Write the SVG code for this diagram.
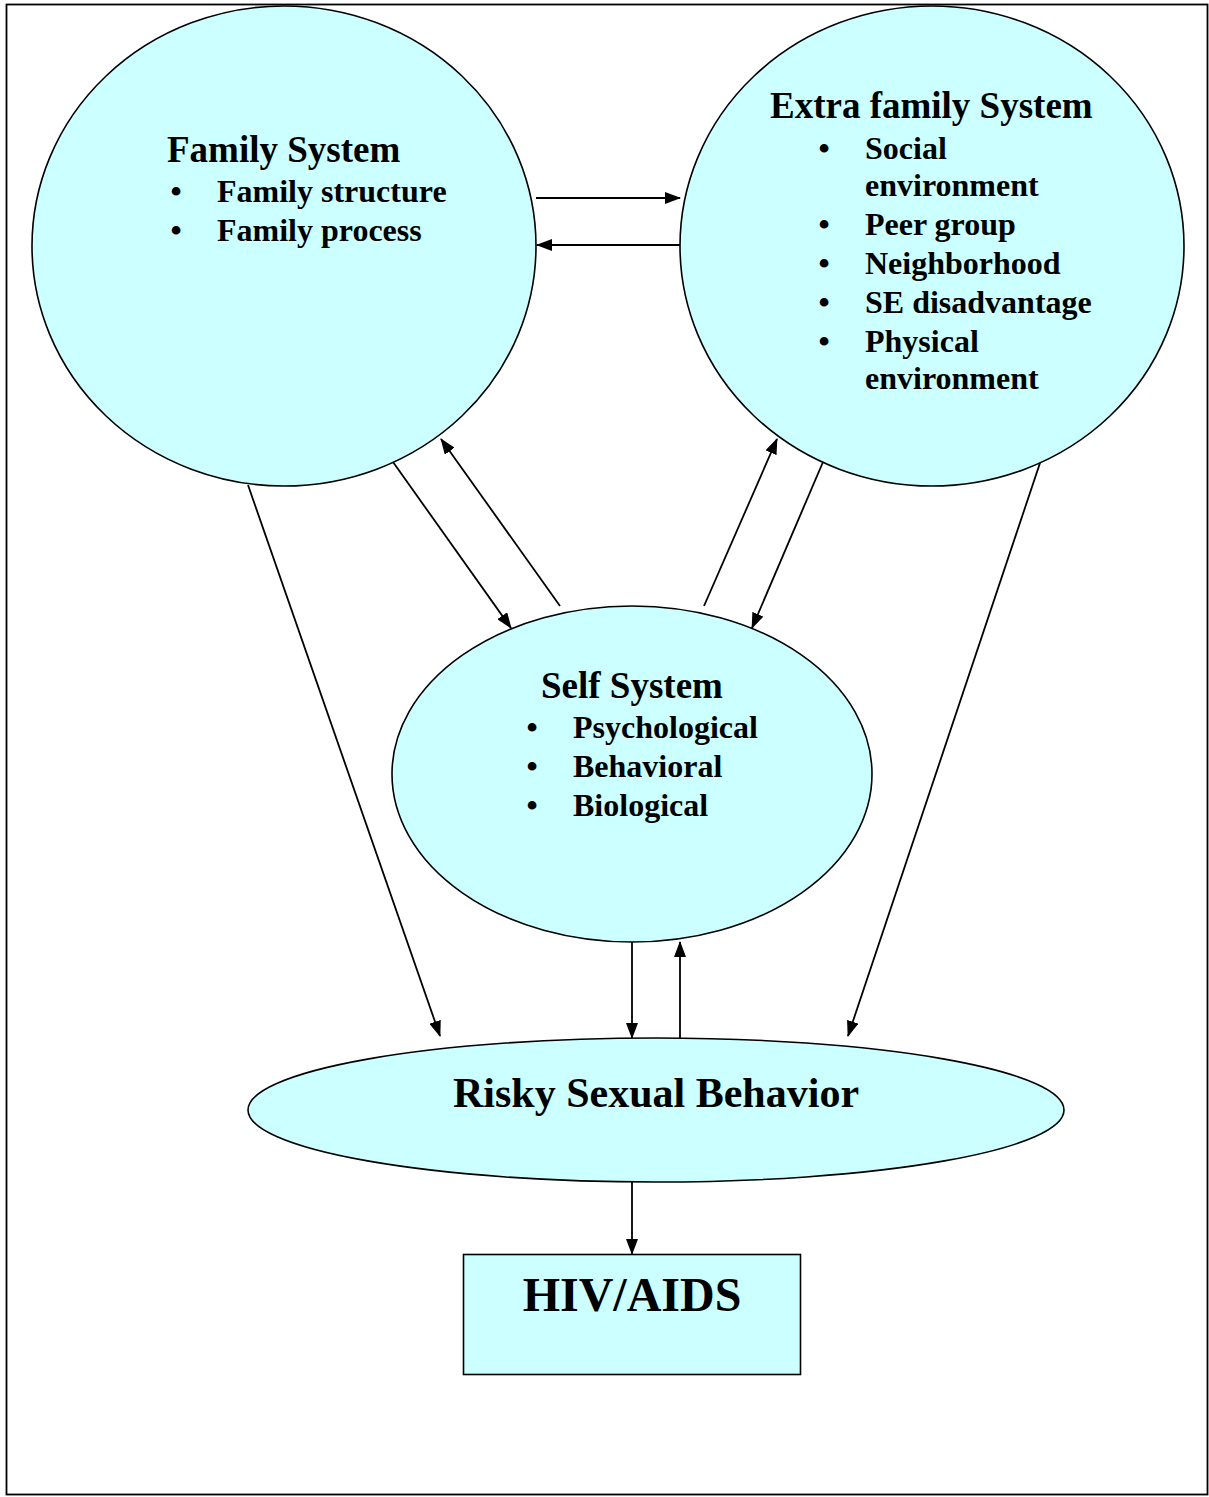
<svg xmlns="http://www.w3.org/2000/svg" width="1209" height="1497" viewBox="0 0 1209 1497">
<style>
.node{fill:#ccffff;stroke:#000;stroke-width:1.6}
.h{font-family:"Liberation Serif","Times New Roman",serif;font-weight:bold;font-size:37px;fill:#000}
.t{font-family:"Liberation Serif","Times New Roman",serif;font-weight:bold;font-size:32px;fill:#000}
.b{font-family:"Liberation Serif","Times New Roman",serif;font-weight:bold;font-size:32px;fill:#000;text-anchor:middle}
.c{stroke:#000;stroke-width:1.8;fill:none;marker-end:url(#ah)}
</style>
<defs>
<marker id="ah" markerUnits="userSpaceOnUse" markerWidth="16" markerHeight="12" refX="15" refY="6" orient="auto" viewBox="0 0 16 12">
<path d="M0,0 L16,6 L0,12 z" fill="#000"/>
</marker>
</defs>
<rect x="0" y="0" width="1209" height="1497" fill="#fff"/>
<rect x="6.5" y="4.5" width="1201" height="1490" fill="none" stroke="#000" stroke-width="1.8"/>
<g id="family">
<ellipse class="node" cx="284" cy="246" rx="252" ry="240"/>
<text class="h" x="167" y="162">Family System</text>
<text class="b" x="176" y="202">•</text><text class="t" x="217" y="202">Family structure</text>
<text class="b" x="176" y="241">•</text><text class="t" x="217" y="241">Family process</text>
</g>
<g id="extra">
<ellipse class="node" cx="932" cy="246" rx="252" ry="240"/>
<text class="h" x="770" y="118">Extra family System</text>
<text class="b" x="824" y="159">•</text><text class="t" x="865" y="159">Social</text>
<text class="t" x="865" y="196">environment</text>
<text class="b" x="824" y="235">•</text><text class="t" x="865" y="235">Peer group</text>
<text class="b" x="824" y="274">•</text><text class="t" x="865" y="274">Neighborhood</text>
<text class="b" x="824" y="313">•</text><text class="t" x="865" y="313">SE disadvantage</text>
<text class="b" x="824" y="352">•</text><text class="t" x="865" y="352">Physical</text>
<text class="t" x="865" y="389">environment</text>
</g>
<g id="self">
<ellipse class="node" cx="632" cy="774" rx="240" ry="168"/>
<text class="h" x="541" y="698">Self System</text>
<text class="b" x="532" y="738">•</text><text class="t" x="573" y="738">Psychological</text>
<text class="b" x="532" y="777">•</text><text class="t" x="573" y="777">Behavioral</text>
<text class="b" x="532" y="816">•</text><text class="t" x="573" y="816">Biological</text>
</g>
<g id="risky">
<ellipse class="node" cx="656" cy="1110" rx="408" ry="72"/>
<text class="h" x="656" y="1107" style="font-size:42px;text-anchor:middle">Risky Sexual Behavior</text>
</g>
<g id="hiv">
<rect class="node" x="463.5" y="1254.5" width="337" height="120"/>
<text class="h" x="632" y="1311" style="font-size:48px;text-anchor:middle">HIV/AIDS</text>
</g>
<g id="connectors">
<line class="c" x1="536" y1="198" x2="680" y2="198"/>
<line class="c" x1="680" y1="245" x2="537" y2="245"/>
<line class="c" x1="393" y1="462" x2="511" y2="628"/>
<line class="c" x1="560" y1="606" x2="441" y2="439"/>
<line class="c" x1="704" y1="606" x2="777" y2="439"/>
<line class="c" x1="823" y1="462" x2="752" y2="628"/>
<line class="c" x1="248" y1="485" x2="440" y2="1036"/>
<line class="c" x1="1040" y1="463" x2="848" y2="1036"/>
<line class="c" x1="632" y1="942" x2="632" y2="1038"/>
<line class="c" x1="680" y1="1038" x2="680" y2="942"/>
<line class="c" x1="632" y1="1182" x2="632" y2="1254"/>
</g>
</svg>
